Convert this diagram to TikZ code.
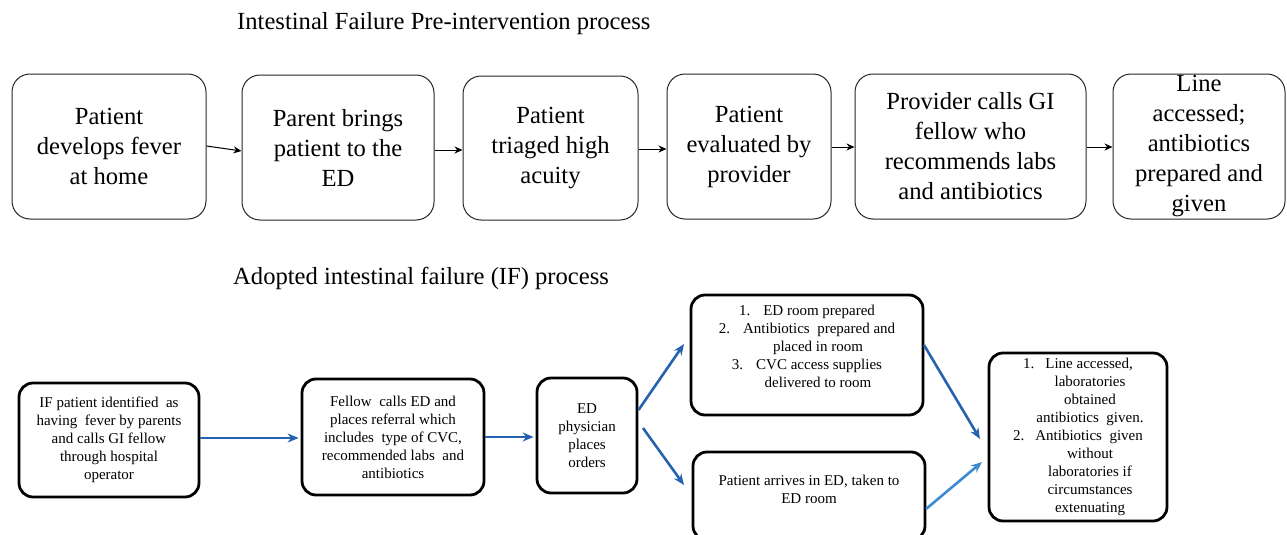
\documentclass[tikz,border=0pt]{standalone}
\usepackage{fontspec}
\setmainfont{Liberation Serif}
\usetikzlibrary{arrows.meta}
\definecolor{flowblue}{HTML}{2563AE}
\definecolor{lightblue}{HTML}{3D8AD3}
\begin{document}
\begin{tikzpicture}[x=1pt,y=-1pt,
  topbox/.style={draw=black!85, line width=1pt, rounded corners=18pt, align=center,
    font=\fontsize{24.6}{30}\selectfont, inner sep=0pt},
  botbox/.style={draw=black, line width=2.8pt, rounded corners=14pt, align=center,
    font=\fontsize{15}{18}\selectfont, inner sep=0pt},
  bottext/.style={align=center, font=\fontsize{15}{18}\selectfont, inner sep=0pt},
  blk/.style={-{Stealth[length=8pt,width=7pt]}, line width=1pt, black},
  blu/.style={-{Stealth[length=11pt,width=9pt]}, line width=2.6pt, flowblue},
  ttl/.style={font=\fontsize{24.6}{30}\selectfont, anchor=base west, inner sep=0pt}
]
\useasboundingbox (0,0) rectangle (1287,535);
\node[ttl] (t1) at (237,30) {Intestinal Failure Pre-intervention process};
\node[ttl] (t2) at (233,284) {Adopted intestinal failure (IF) process};

% top row
\node[topbox, minimum width=194pt, minimum height=145pt] (a1) at (109,146.5) {Patient\\develops fever\\at home};
\node[topbox, minimum width=192pt, minimum height=145pt] (a2) at (338,147.5) {Parent brings\\patient to the\\ED};
\node[topbox, minimum width=175pt, minimum height=144pt] (a3) at (550.5,148) {Patient\\triaged high\\acuity};
\node[topbox, minimum width=164pt, minimum height=145pt] (a4) at (749,146.5) {Patient\\evaluated by\\provider};
\node[topbox, minimum width=231pt, minimum height=145pt] (a5) at (970.5,146.5) {Provider calls GI\\fellow who\\recommends labs\\and antibiotics};
\node[topbox, minimum width=172pt, minimum height=145pt] (a6) at (1199,146.5) {Line\\accessed;\\antibiotics\\prepared and\\given};

\draw[blk] ([yshift=0.5pt]a1.east) -- ([yshift=-3.5pt]a2.west);
\draw[blk] ([yshift=-2.5pt]a2.east) -- ([yshift=-2pt]a3.west);
\draw[blk] ([yshift=-1pt]a3.east) -- ([yshift=-2.5pt]a4.west);
\draw[blk] ([yshift=-0.5pt]a4.east) -- ([yshift=-0.5pt]a5.west);
\draw[blk] ([yshift=-0.5pt]a5.east) -- ([yshift=-0.5pt]a6.west);

% bottom row
\node[botbox, minimum width=180pt, minimum height=114pt] (b1) at (109,440) {IF patient identified\ \ as\\having\ \ fever by parents\\and calls GI fellow\\through hospital\\operator};
\node[botbox, minimum width=182pt, minimum height=116pt] (b2) at (393,437) {Fellow\ \ calls ED and\\places referral which\\includes\ \ type of CVC,\\recommended labs\ \ and\\antibiotics};
\node[botbox, minimum width=100pt, minimum height=115pt] (b3) at (587,435.5) {ED\\physician\\places\\orders};

\node[botbox, minimum width=232pt, minimum height=120pt] (b4) at (807,355) {};
\node[bottext] (b4t) at (807,346.5) {1.\hspace{13pt}ED room prepared\\2.\hspace{13pt}Antibiotics\ \ prepared and\\\hspace*{22pt}placed in room\\3.\hspace{13pt}CVC access supplies\\\hspace*{22pt}delivered to room};

\node[botbox, minimum width=232pt, minimum height=88pt] (b5) at (809,496) {};
\node[bottext] (b5t) at (809,489) {Patient arrives in ED, taken to\\ED room};

\node[botbox, minimum width=178pt, minimum height=168pt] (b6) at (1078,437) {1.\hspace{11pt}Line accessed,\\\hspace*{24pt}laboratories\\\hspace*{24pt}obtained\\\hspace*{24pt}antibiotics\ \ given.\\2.\hspace{11pt}Antibiotics\ \ given\\\hspace*{24pt}without\\\hspace*{24pt}laboratories if\\\hspace*{24pt}circumstances\\\hspace*{24pt}extenuating};

\coordinate (p1) at (638.5,410);
\coordinate (p2) at (684,344);
\coordinate (p3) at (643,428);
\coordinate (p4) at (684,485);
\coordinate (p5) at (924,345);
\coordinate (p6) at (980,439);
\coordinate (p7) at (926,509);
\coordinate (p8) at (982,462);

\draw[blu] ([yshift=2pt]b1.east) -- ([xshift=-2pt,yshift=-1pt]b2.west);
\draw[blu] (b2.east) -- ([xshift=-2pt,yshift=-1.5pt]b3.west);
\draw[blu] (p1) -- (p2);
\draw[blu] (p3) -- (p4);
\draw[blu] (p5) -- (p6);
\draw[blu, lightblue] (p7) -- (p8);
\end{tikzpicture}
\end{document}
